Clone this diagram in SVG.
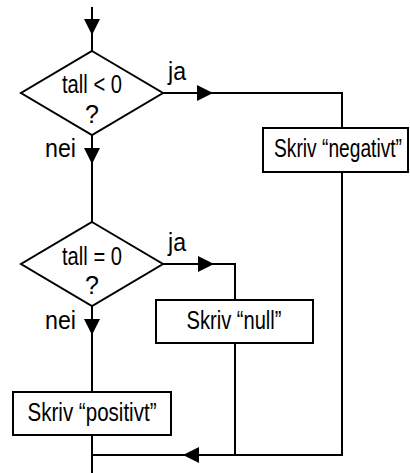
<svg xmlns="http://www.w3.org/2000/svg" xmlns:xlink="http://www.w3.org/1999/xlink" width="410" height="473" viewBox="0 0 410 473">
  <style>
    .shape { fill: #ffffff; stroke: #000000; stroke-width: 2; }
    .wire { fill: none; stroke: #000000; stroke-width: 2; stroke-linejoin: miter; }
    .head { fill: #000000; stroke: none; }
    text { font-family: "Liberation Sans Narrow", "Liberation Sans", Arial, sans-serif; font-size: 25px; fill: #000000; }
    .mid { text-anchor: middle; }
  </style>
  <defs>
    <!-- arrowhead pointing right, tip at the origin -->
    <path id="ah" class="head" d="M0,0 L-16,-8 L-16,8 Z"/>
  </defs>
  <rect width="410" height="473" fill="#ffffff"/>

  <g id="connectors">
    <!-- entry -->
    <path class="wire" d="M92,7 V51"/>
    <use xlink:href="#ah" transform="translate(92,35) rotate(90)"/>
    <!-- tall < 0 : ja -->
    <path class="wire" d="M163,93 H342 V128"/>
    <use xlink:href="#ah" transform="translate(213,93)"/>
    <text x="168" y="80" textLength="18" lengthAdjust="spacingAndGlyphs">ja</text>
    <!-- tall < 0 : nei -->
    <path class="wire" d="M92,135 V222"/>
    <use xlink:href="#ah" transform="translate(92,164) rotate(90)"/>
    <text x="45" y="157" textLength="31" lengthAdjust="spacingAndGlyphs">nei</text>
    <!-- tall = 0 : ja -->
    <path class="wire" d="M163,264 H235 V300"/>
    <use xlink:href="#ah" transform="translate(214,264)"/>
    <text x="168" y="251" textLength="18" lengthAdjust="spacingAndGlyphs">ja</text>
    <!-- tall = 0 : nei -->
    <path class="wire" d="M92,306 V392"/>
    <use xlink:href="#ah" transform="translate(92,335) rotate(90)"/>
    <text x="45" y="329" textLength="31" lengthAdjust="spacingAndGlyphs">nei</text>
    <!-- merge of all three branches -->
    <path class="wire" d="M342,172 V455 H92"/>
    <path class="wire" d="M235,343 V455"/>
    <use xlink:href="#ah" transform="translate(183,455) rotate(180)"/>
    <path class="wire" d="M92,435 V473"/>
  </g>

  <g id="test-negative">
    <polygon class="shape" points="92,51 163,93 92,135 21,93"/>
    <text class="mid" x="92" y="93" textLength="60" lengthAdjust="spacingAndGlyphs">tall &lt; 0</text>
    <text class="mid" x="92" y="123">?</text>
  </g>

  <g id="write-negative">
    <rect class="shape" x="263" y="128" width="145" height="44"/>
    <text class="mid" x="338" y="157" textLength="128" lengthAdjust="spacingAndGlyphs">Skriv “negativt”</text>
  </g>

  <g id="test-zero">
    <polygon class="shape" points="92,222 163,264 92,306 21,264"/>
    <text class="mid" x="92" y="265" textLength="60" lengthAdjust="spacingAndGlyphs">tall = 0</text>
    <text class="mid" x="92" y="294">?</text>
  </g>

  <g id="write-null">
    <rect class="shape" x="156" y="300" width="157" height="43"/>
    <text class="mid" x="234" y="329" textLength="95" lengthAdjust="spacingAndGlyphs">Skriv “null”</text>
  </g>

  <g id="write-positive">
    <rect class="shape" x="13" y="392" width="158" height="43"/>
    <text class="mid" x="92" y="421" textLength="129" lengthAdjust="spacingAndGlyphs">Skriv “positivt”</text>
  </g>
</svg>
